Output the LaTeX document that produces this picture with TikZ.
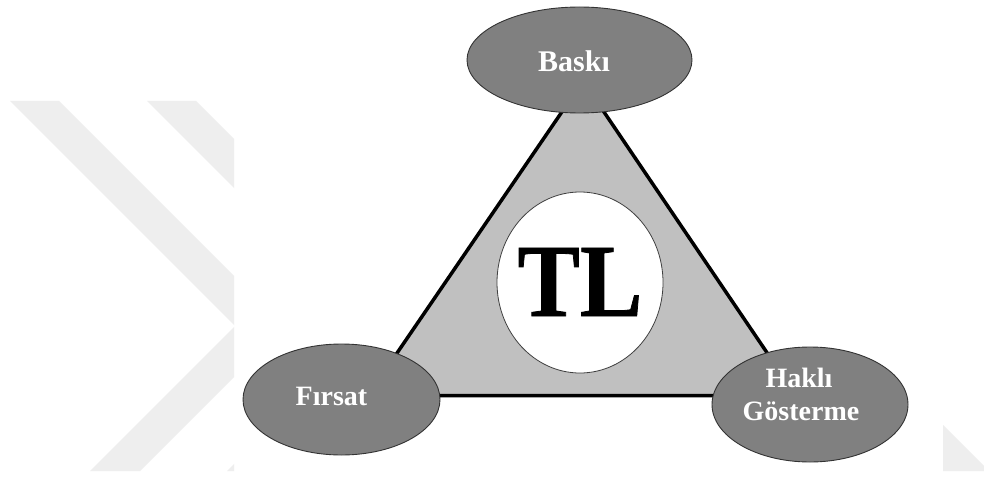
\documentclass[tikz,border=0pt]{standalone}
\usepackage{fontspec}
\usepackage{graphicx}
\setmainfont{Liberation Serif}
\newfontfamily\tlfont[FakeBold=0.8]{Liberation Serif Bold}
\usetikzlibrary{shapes.geometric}
\definecolor{wm}{HTML}{EEEEEE}
\definecolor{elfill}{HTML}{808080}
\definecolor{trifill}{HTML}{C0C0C0}
\begin{document}
\begin{tikzpicture}[x=1pt,y=-1pt,
  oval/.style={ellipse,draw=black!80,line width=0.9pt,fill=elfill,inner sep=0pt},
  lbl/.style={text=white,font=\fontsize{28}{33}\selectfont\bfseries,inner sep=0pt,anchor=base}]
\useasboundingbox (0,0) rectangle (984,476);
\fill[white] (0,0) rectangle (984,476);
% watermark
\begin{scope}
\clip (0,101) rectangle (234,471);
\fill[wm] (10,101) -- (59,101) -- (284.5,326.5) -- (140,471) -- (90,471) -- (235,326) -- cycle;
\fill[wm] (147,101) -- (196,101) -- (421.5,326.5) -- (277,471) -- (227,471) -- (372,326) -- cycle;
\end{scope}
\fill[wm] (943,425) -- (943,471) -- (984,471) -- (984,466) -- cycle;
% triangle
\coordinate (v1) at (583,81);
\coordinate (v2) at (368,395.5);
\coordinate (v3) at (796,395.5);
\draw[line width=3.5pt,fill=trifill,line join=miter] (v1) -- (v2) -- (v3) -- cycle;
% ovals
\node[oval,minimum width=225pt,minimum height=106pt] (baski) at (579.5,60) {};
\node[oval,minimum width=197pt,minimum height=111pt] (firsat) at (341.5,399.5) {};
\node[oval,minimum width=196pt,minimum height=115pt] (hakli) at (810,404.5) {};
% core
\node[ellipse,draw=black!75,line width=0.8pt,fill=white,minimum width=166pt,minimum height=181pt,inner sep=0pt] (core) at (580,282.5) {};
\node[inner sep=0pt] (tl) at (580,282) {\scalebox{0.9}[1]{\tlfont\fontsize{104}{110}\selectfont TL}};
% labels
\node[lbl,font=\fontsize{30}{33}\selectfont\bfseries] (baskiT) at (574,72) {Baskı};
\node[lbl] (firsatT) at (331.5,405) {Fırsat};
\node[lbl] (hakliA) at (799,387) {Haklı};
\node[lbl] (hakliB) at (801,420) {Gösterme};
\end{tikzpicture}
\end{document}
